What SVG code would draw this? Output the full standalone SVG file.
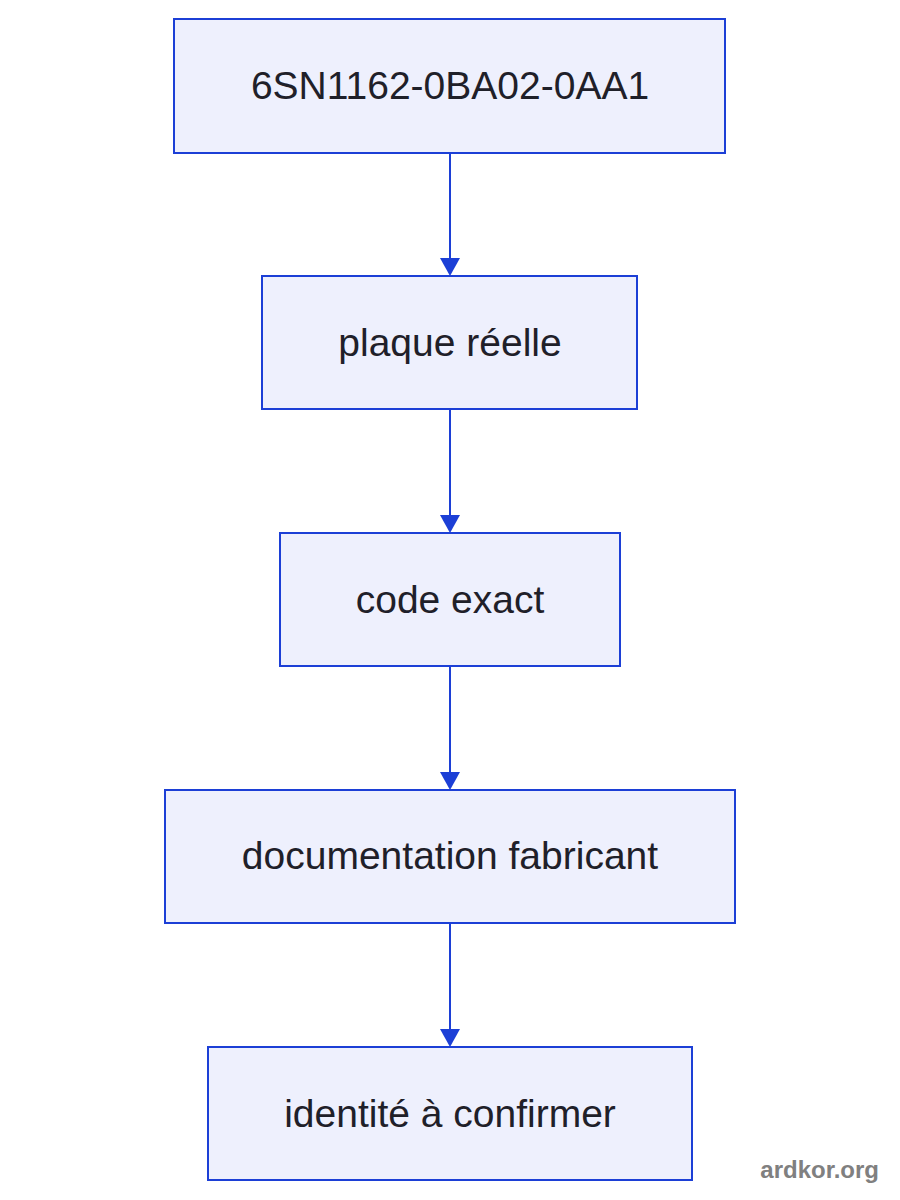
<svg xmlns="http://www.w3.org/2000/svg" width="900" height="1200" viewBox="0 0 900 1200">
<style>
.node rect{fill:#eef0fd;stroke:#1c3fd6;stroke-width:2}
.node text{font-family:"Liberation Sans",Arial,sans-serif;font-size:39px;fill:#1f2029;text-anchor:middle}
.edge{stroke:#1c3fd6;stroke-width:2;fill:none}
.head{fill:#1c3fd6}
.wm{font-family:"Liberation Sans",Arial,sans-serif;font-weight:bold;font-size:24px;fill:#808080;text-anchor:end}
</style>
<rect width="900" height="1200" fill="#ffffff"/>
<g id="edges">
<path class="edge" d="M450,153 L450,258"/>
<path class="head" d="M440,258 L460,258 L450,276 Z"/>
<path class="edge" d="M450,409 L450,515"/>
<path class="head" d="M440,515 L460,515 L450,533 Z"/>
<path class="edge" d="M450,666 L450,772"/>
<path class="head" d="M440,772 L460,772 L450,790 Z"/>
<path class="edge" d="M450,923 L450,1029"/>
<path class="head" d="M440,1029 L460,1029 L450,1047 Z"/>
</g>
<g id="n1" class="node"><rect x="174" y="19" width="551" height="134"/><text x="450" y="99">6SN1162-0BA02-0AA1</text></g>
<g id="n2" class="node"><rect x="262" y="276" width="375" height="133"/><text x="450" y="356">plaque réelle</text></g>
<g id="n3" class="node"><rect x="280" y="533" width="340" height="133"/><text x="450" y="613">code exact</text></g>
<g id="n4" class="node"><rect x="165" y="790" width="570" height="133"/><text x="450" y="869">documentation fabricant</text></g>
<g id="n5" class="node"><rect x="208" y="1047" width="484" height="133"/><text x="450" y="1127">identité à confirmer</text></g>
<text class="wm" x="879" y="1178">ardkor.org</text>
</svg>
